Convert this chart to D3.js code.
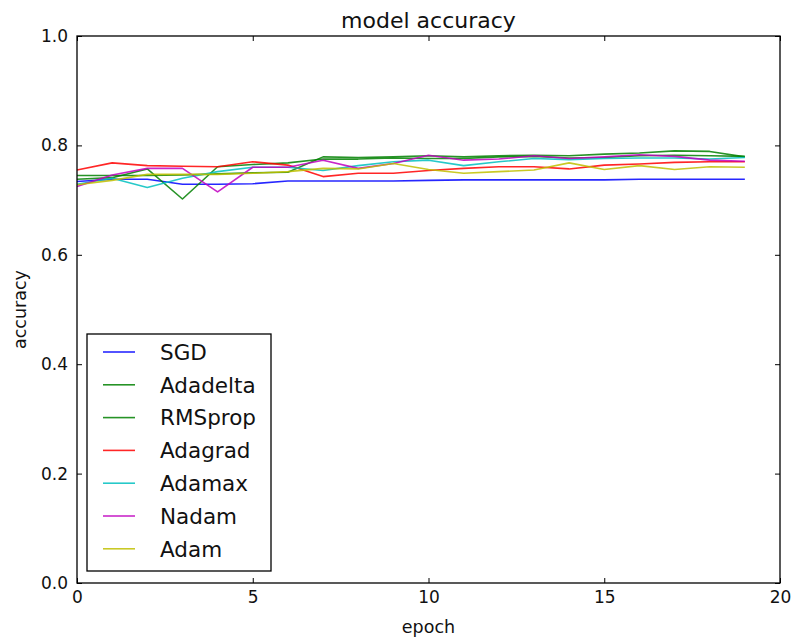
<!DOCTYPE html>
<html>
<head>
<meta charset="utf-8">
<script src="https://cdn.jsdelivr.net/npm/d3@7"></script>
<style>
  html, body { margin: 0; padding: 0; background: #fff; }
  svg { display: block; font-family: "DejaVu Sans", sans-serif; }
</style>
</head>
<body>
<svg id="chart" width="795" height="642"></svg>
<script>
// Validation accuracy per epoch for each optimizer
const epochs = d3.range(20);
const seriesNames = ["SGD", "Adadelta", "RMSprop", "Adagrad", "Adamax", "Nadam", "Adam"];
const seriesColors = ["#0000ff", "#008000", "#008000", "#ff0000", "#00bfbf", "#bf00bf", "#bfbf00"];

const sgd      = [0.734, 0.738, 0.738, 0.729, 0.729, 0.730, 0.735, 0.735, 0.735, 0.735, 0.736, 0.737, 0.737, 0.737, 0.737, 0.737, 0.738, 0.738, 0.738, 0.738];
const adadelta = [0.738, 0.741, 0.757, 0.702, 0.761, 0.765, 0.768, 0.775, 0.775, 0.777, 0.776, 0.776, 0.779, 0.780, 0.777, 0.778, 0.781, 0.782, 0.781, 0.780];
const rmsprop  = [0.745, 0.745, 0.745, 0.746, 0.748, 0.750, 0.751, 0.779, 0.778, 0.779, 0.781, 0.779, 0.781, 0.782, 0.781, 0.784, 0.786, 0.790, 0.789, 0.779];
const adagrad  = [0.755, 0.768, 0.763, 0.762, 0.761, 0.770, 0.764, 0.743, 0.749, 0.749, 0.754, 0.758, 0.761, 0.761, 0.757, 0.764, 0.766, 0.769, 0.770, 0.770];
const adamax   = [0.729, 0.740, 0.723, 0.740, 0.752, 0.760, 0.760, 0.754, 0.763, 0.770, 0.773, 0.763, 0.770, 0.776, 0.774, 0.776, 0.777, 0.777, 0.775, 0.778];
const nadam    = [0.725, 0.746, 0.758, 0.758, 0.715, 0.760, 0.760, 0.773, 0.758, 0.767, 0.782, 0.773, 0.775, 0.781, 0.776, 0.779, 0.783, 0.780, 0.773, 0.771];
const adam     = [0.728, 0.736, 0.747, 0.747, 0.747, 0.749, 0.752, 0.758, 0.757, 0.767, 0.756, 0.749, 0.752, 0.755, 0.768, 0.756, 0.763, 0.756, 0.761, 0.760];

const xTicks = [0, 5, 10, 15, 20];
const yTicks = [0.0, 0.2, 0.4, 0.6, 0.8, 1.0];

const allSeries = [sgd, adadelta, rmsprop, adagrad, adamax, nadam, adam];

const svg = d3.select("#chart");
const margin = { left: 77, right: 15, top: 36, bottom: 59 };
const W = 795, H = 642;
const x = d3.scaleLinear().domain([0, 20]).range([margin.left, W - margin.right]);
const y = d3.scaleLinear().domain([0, 1]).range([H - margin.bottom, margin.top]);

const tickLen = 5;
const fmt = d3.format(".1f");
const textColor = "#111";

// Series lines (drawn first, frame on top)
const line = d3.line().x((d, i) => x(epochs[i])).y(d => y(d));
svg.append("g").selectAll("path")
  .data(allSeries)
  .join("path")
  .attr("d", d => line(d))
  .attr("fill", "none")
  .attr("stroke", (d, i) => seriesColors[i])
  .attr("stroke-opacity", 0.85)
  .attr("stroke-width", 1.6)
  .attr("stroke-linejoin", "round");

// Axes with inward ticks on all four sides
const axisStyle = g => {
  g.select(".domain").remove();
  g.selectAll("line").attr("stroke", "#000").attr("stroke-width", 1);
  g.selectAll("text").attr("fill", textColor).attr("font-size", 17).attr("font-family", "DejaVu Sans, sans-serif");
};
svg.append("g").attr("transform", `translate(0,${y(0)})`)
  .call(d3.axisBottom(x).tickValues(xTicks).tickSize(-tickLen).tickPadding(8).tickFormat(d3.format("d")))
  .call(axisStyle);
svg.append("g").attr("transform", `translate(0,${y(1)})`)
  .call(d3.axisTop(x).tickValues(xTicks).tickSize(-tickLen).tickFormat(""))
  .call(axisStyle);
svg.append("g").attr("transform", `translate(${x(0)},0)`)
  .call(d3.axisLeft(y).tickValues(yTicks).tickSize(-tickLen).tickPadding(9).tickFormat(fmt))
  .call(axisStyle);
svg.append("g").attr("transform", `translate(${x(20)},0)`)
  .call(d3.axisRight(y).tickValues(yTicks).tickSize(-tickLen).tickFormat(""))
  .call(axisStyle);

// Frame
svg.append("rect")
  .attr("x", x(0)).attr("y", y(1))
  .attr("width", x(20) - x(0)).attr("height", y(0) - y(1))
  .attr("fill", "none").attr("stroke", "#000").attr("stroke-width", 1.3);

// Title and axis labels
svg.append("text").attr("x", (x(0) + x(20)) / 2).attr("y", 28)
  .attr("text-anchor", "middle").attr("font-size", 22).attr("fill", textColor).text("model accuracy");
svg.append("text").attr("x", (x(0) + x(20)) / 2).attr("y", 633)
  .attr("text-anchor", "middle").attr("font-size", 17.5).attr("fill", textColor).text("epoch");
svg.append("text").attr("transform", `translate(26,${(y(0) + y(1)) / 2}) rotate(-90)`)
  .attr("text-anchor", "middle").attr("font-size", 17.5).attr("fill", textColor).text("accuracy");

// Legend
const lg = svg.append("g");
const lgX = 87, lgY = 334, lgW = 184, lgH = 237, rowH = 32.8, firstRow = 352;
lg.append("rect").attr("x", lgX).attr("y", lgY).attr("width", lgW).attr("height", lgH)
  .attr("fill", "#fff").attr("stroke", "#000").attr("stroke-width", 1.3);
seriesNames.forEach((name, i) => {
  const cy = firstRow + i * rowH;
  lg.append("line").attr("x1", 103).attr("x2", 135).attr("y1", cy).attr("y2", cy)
    .attr("stroke", seriesColors[i]).attr("stroke-opacity", 0.85).attr("stroke-width", 1.6);
  lg.append("text").attr("x", 160).attr("y", cy).attr("dy", "0.36em")
    .attr("font-size", 21.5).attr("fill", textColor).text(name);
});
</script>
</body>
</html>
